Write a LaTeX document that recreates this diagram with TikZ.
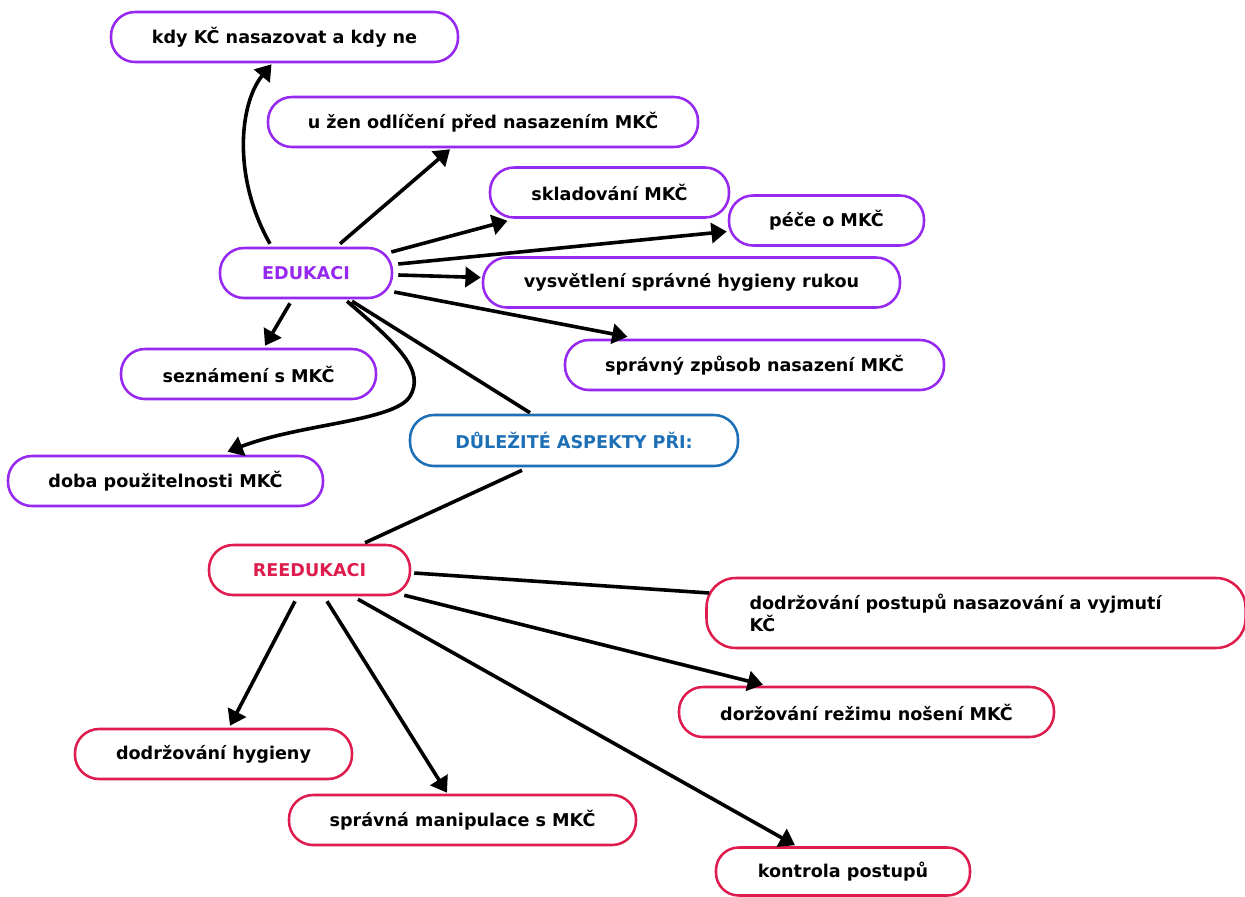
\documentclass[tikz,border=0pt]{standalone}
\usepackage{fontspec}
\setmainfont{DejaVu Sans}
\usetikzlibrary{arrows.meta,calc}
\definecolor{edupurple}{RGB}{150,40,240}
\definecolor{keyblue}{RGB}{30,112,182}
\definecolor{reedured}{RGB}{222,28,78}
\begin{document}
\begin{tikzpicture}[x=0.75pt,y=-0.75pt,
  box/.style={draw, line width=1.9pt, rounded corners=18pt, minimum height=37.5pt,
    inner sep=0pt, font=\fontsize{13.2}{15}\selectfont\bfseries, fill=white},
  pbox/.style={box, draw=edupurple},
  rbox/.style={box, draw=reedured},
  conn/.style={line width=2.7pt, black},
  arr/.style={conn, -{Triangle[length=11.5pt,width=15pt]}}]
\useasboundingbox (0,0) rectangle (1245,896);

% --- Education branch ---
\node[pbox, minimum width=260.25pt] (kdy) at (284.5,37) {kdy KČ nasazovat a kdy ne};
\node[pbox, minimum width=322.5pt] (uzen) at (483,122) {u žen odlíčení před nasazením MKČ};
\node[pbox, minimum width=179.25pt] (sklad) at (609.5,192.5) {skladování MKČ};
\node[pbox, minimum width=146.25pt] (pece) at (826.5,220.5) {péče o MKČ};
\node[pbox, minimum width=129pt, text=edupurple] (edu) at (306,273) {EDUKACI};
\node[pbox, minimum width=312.75pt] (vysv) at (691.5,282.5) {vysvětlení správné hygieny rukou};
\node[pbox, minimum width=284.25pt] (spravny) at (754.5,365) {správný způsob nasazení MKČ};
\node[pbox, minimum width=191.25pt] (sezn) at (248.5,374) {seznámení s MKČ};
\node[pbox, minimum width=236.25pt] (doba) at (165.5,481) {doba použitelnosti MKČ};

% --- Central node ---
\node[box, draw=keyblue, text=keyblue, minimum width=246pt, minimum height=38.25pt] (dul) at (574,440.5) {DŮLEŽITÉ ASPEKTY PŘI:};

% --- Re-education branch ---
\node[rbox, minimum width=150.75pt, text=reedured] (reedu) at (309.5,570) {REEDUKACI};
\node[rbox, rounded corners=22pt, minimum height=52.5pt, text width=339.75pt,
  inner xsep=32.25pt, align=left, font=\fontsize{13.2}{17}\selectfont\bfseries] (dodrz) at (976,613)
  {dodržování postupů nasazování a vyjmutí\\KČ};
\node[rbox, minimum width=281.25pt] (dorz) at (866.5,712) {doržování režimu nošení MKČ};
\node[rbox, minimum width=207.75pt] (hyg) at (213.5,754) {dodržování hygieny};
\node[rbox, minimum width=260.25pt] (manip) at (462.5,820) {správná manipulace s MKČ};
\node[rbox, minimum width=190.5pt, minimum height=36pt, rounded corners=17pt] (kontrola) at (843,871.5) {kontrola postupů};

% --- Connectors from EDUKACI ---
\draw[arr] ($(edu.north)+(-36,-3)$) .. controls ($(edu.north)+(-74,-70)$) and ($(kdy.south)+(-45,40)$) .. ($(kdy.south)+(-13,1)$);
\draw[arr] ($(edu.north)+(34,-3)$) -- ($(uzen.south)+(-33,1)$);
\draw[arr] ($(edu.east)+(-2,-21)$) -- ($(sklad.south)+(-102,2)$);
\draw[arr] ($(edu.east)+(5,-9)$) -- ($(pece.west)+(-1,11)$);
\draw[arr] ($(edu.east)+(5,2)$) -- ($(vysv.west)+(-1,-5)$);
\draw[arr] ($(edu.east)+(1,19)$) -- ($(spravny.north)+(-127,-2)$);
\draw[arr] ($(edu.south)+(-16,4)$) -- ($(sezn.north)+(16.5,-2)$);
\draw[arr] ($(edu.south)+(41,2)$) .. controls ($(edu.south)+(94,47)$) and ($(edu.south)+(119,72)$) ..
  ($(edu.south)+(104,97)$) .. controls ($(edu.south)+(89,122)$) and ($(doba.north)+(135,-31)$) ..
  ($(doba.north)+(62,-3)$);
\draw[conn] ($(edu.south)+(46,2)$) -- ($(dul.north)+(-44,-1)$);

% --- Central link ---
\draw[conn] ($(dul.south)+(-52,3)$) -- ($(reedu.north)+(55.5,-1)$);

% --- Connectors from REEDUKACI ---
\draw[conn] ($(reedu.east)+(3,3)$) -- ($(dodrz.west)+(4,-20)$);
\draw[arr] ($(reedu.south east)+(-7,-1)$) -- ($(dorz.north)+(-103.5,-1)$);
\draw[arr] ($(reedu.south)+(-14.5,5)$) -- ($(hyg.north)+(16.5,-2)$);
\draw[arr] ($(reedu.south)+(17.5,5)$) -- ($(manip.north)+(-15.5,-1)$);
\draw[arr] ($(reedu.south)+(48.5,3)$) -- ($(kontrola.north)+(-48,-1)$);
\end{tikzpicture}
\end{document}
